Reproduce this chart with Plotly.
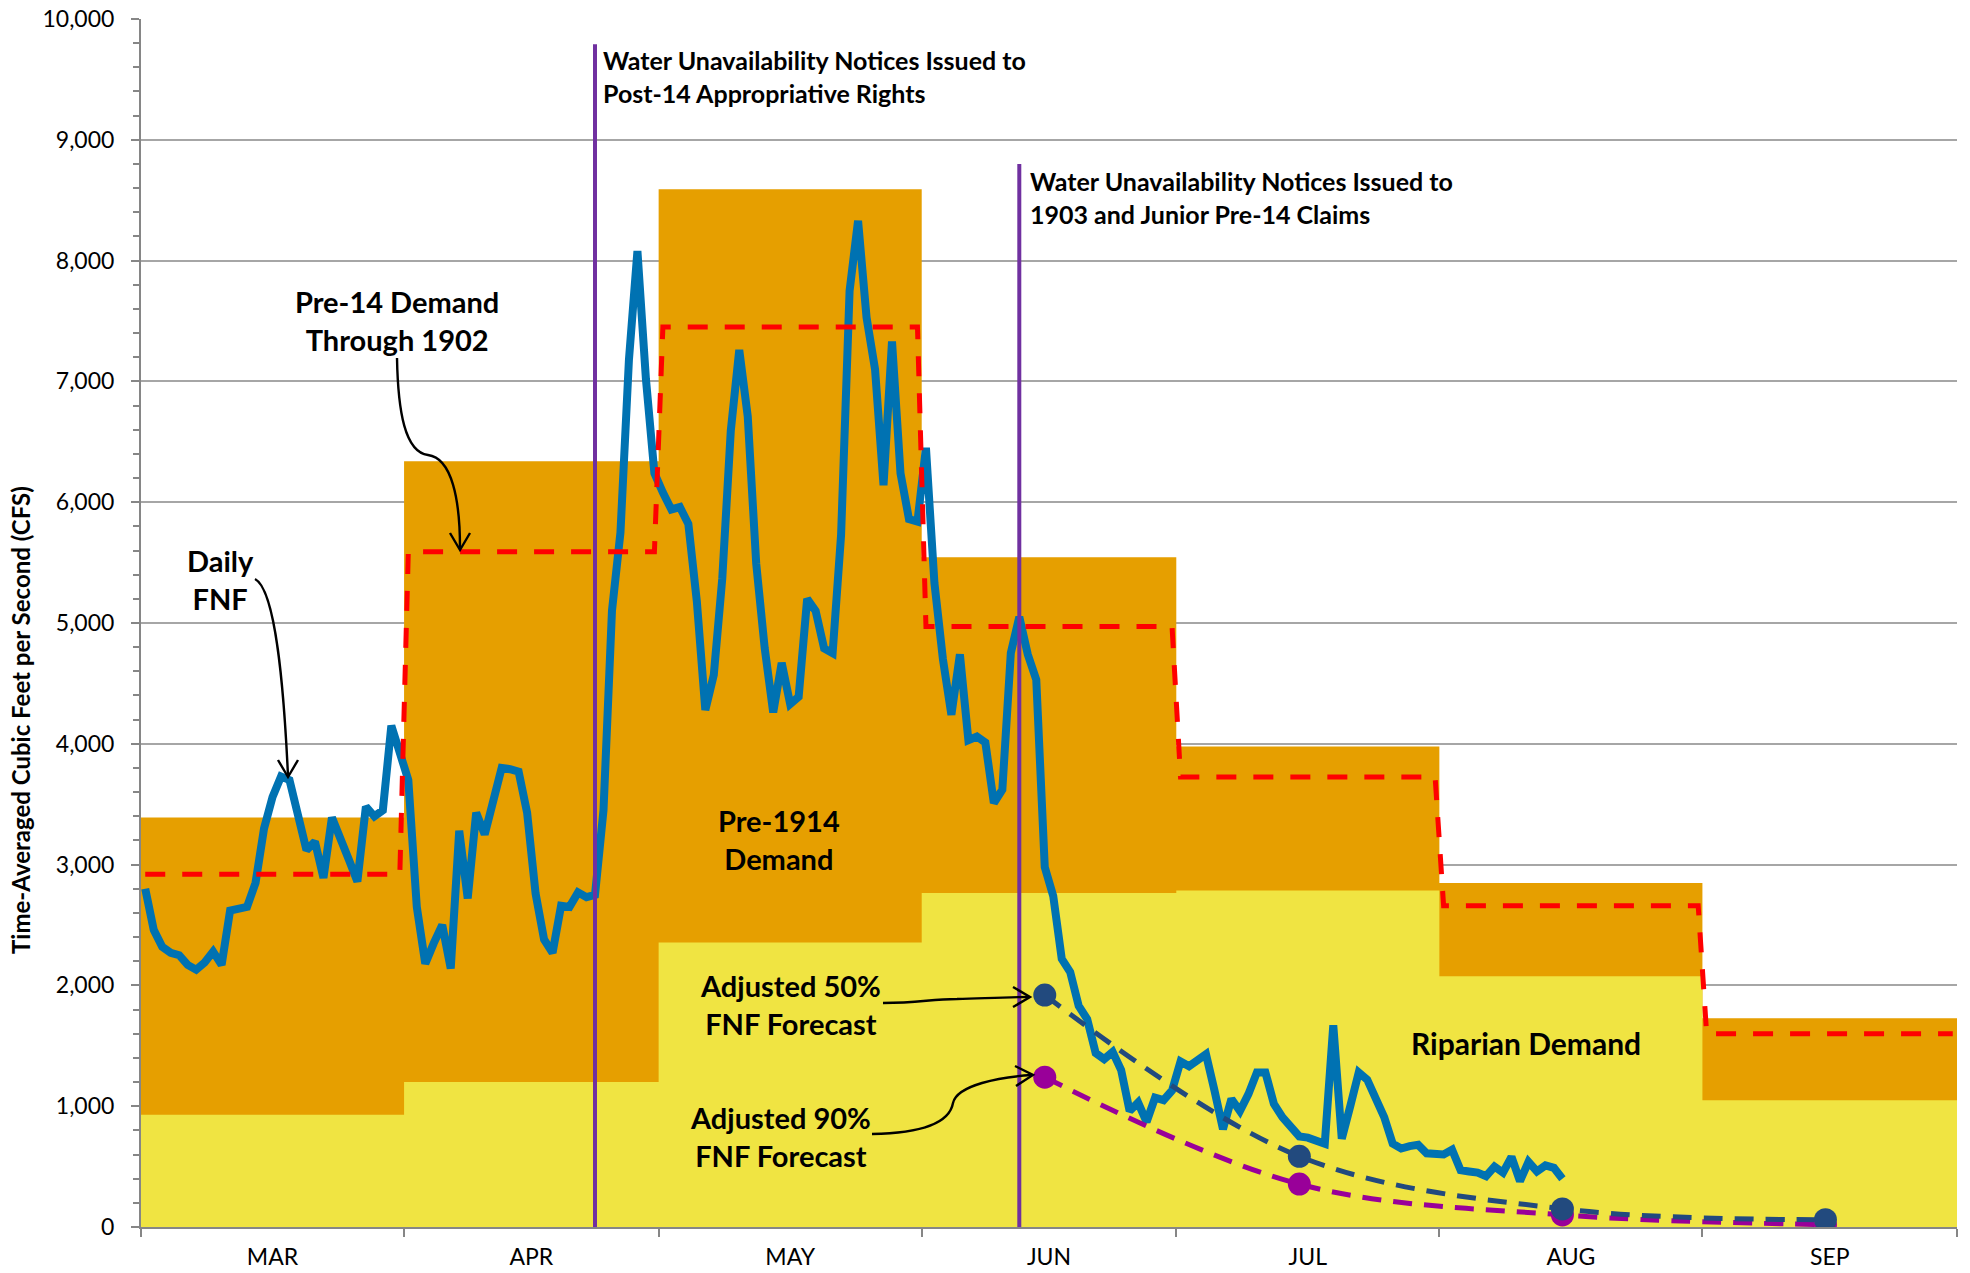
import pandas as pd
import plotly.graph_objects as go

# ---------------- DATA ----------------
season_start = "2015-03-01"
season_end = "2015-10-01"
month_labels = ["MAR", "APR", "MAY", "JUN", "JUL", "AUG", "SEP"]

# monthly demand blocks (cfs)
riparian_demand = [930, 1200, 2355, 2765, 2785, 2075, 1050]
pre1914_demand = [2460, 5140, 6235, 2780, 1192, 773, 678]        # stacked above riparian
pre14_thru_1902_demand = [2920, 5590, 7450, 4970, 3725, 2660, 1600]  # red dashed

# daily full natural flow, Mar 1 onward (cfs)
daily_fnf = [
    2800, 2460, 2320, 2270, 2250, 2170, 2130, 2190, 2280, 2170,
    2620, 2630, 2650, 2850, 3300, 3560, 3730, 3700, 3400, 3120,
    3190, 2890, 3390, 3230, 3040, 2860, 3480, 3400, 3450, 4150,
    3900, 3700, 2650, 2180, 2350, 2500, 2140, 3280, 2720, 3430,
    3250, 3530, 3800, 3790, 3770, 3430, 2760, 2380, 2270, 2660,
    2650, 2770, 2730, 2750, 3450, 5100, 5750, 7180, 8080, 7020,
    6240, 6080, 5940, 5960, 5820, 5180, 4280, 4570, 5370, 6590,
    7260, 6710, 5490, 4790, 4260, 4670, 4330, 4390, 5200, 5100,
    4790, 4750, 5730, 7750, 8330, 7530, 7100, 6140, 7330, 6240,
    5860, 5840, 6450, 5330, 4700, 4240, 4740, 4030, 4060, 4010,
    3510, 3620, 4750, 5050, 4740, 4530, 2980, 2740, 2220, 2110,
    1830, 1720, 1440, 1390, 1450, 1300, 960, 1030, 870, 1070,
    1050, 1130, 1370, 1330, 1380, 1430, 1130, 810, 1060, 960,
    1100, 1280, 1280, 1020, 910, 830, 750, 740, 720, 690,
    1670, 730, 1000, 1280, 1220, 1050, 910, 690, 650, 670,
    680, 610, 610, 600, 640, 470, 460, 450, 420, 500,
    450, 580, 380, 540, 460, 510, 490, 400,
]

# adjusted FNF forecasts (mid-month)
forecast_dates = ["2015-06-15", "2015-07-15", "2015-08-15", "2015-09-15"]
fnf_forecast_50 = [1920, 585, 150, 60]
fnf_forecast_90 = [1240, 355, 100, 20]

# curtailment notice dates
notice_dates = ["2015-04-23", "2015-06-12"]
notice_texts = [
    "Water Unavailability Notices Issued to<br>Post-14 Appropriative Rights",
    "Water Unavailability Notices Issued to<br>1903 and Junior Pre-14 Claims",
]

# ---------------- COLOURS ----------------
C_YELLOW = "#F0E442"
C_ORANGE = "#E69F00"
C_BLUE = "#0072B2"
C_RED = "#FF0000"
C_PURPLE_LINE = "#7030A0"
C_NAVY = "#224A7E"
C_MAGENTA = "#990099"
C_GRID = "#A6A6A6"
C_AXIS = "#868686"

# ---------------- DERIVED ----------------
half_day = pd.Timedelta(hours=12)
month_starts = pd.date_range(season_start, season_end, freq="MS")
month_mids = [month_starts[i] + (month_starts[i + 1] - month_starts[i]) / 2 for i in range(7)]

step_x = list(month_starts)
rip_y = riparian_demand + [riparian_demand[-1]]
top_vals = [r + p for r, p in zip(riparian_demand, pre1914_demand)]
top_y = top_vals + [top_vals[-1]]

days = pd.date_range(season_start, "2015-09-30", freq="D")
red_x = days + half_day
red_y = [pre14_thru_1902_demand[d.month - 3] for d in days]

fnf_x = pd.date_range(season_start, periods=len(daily_fnf), freq="D") + half_day
fc_x = pd.to_datetime(forecast_dates) + half_day

fig = go.Figure()

# stacked demand areas
fig.add_trace(go.Scatter(x=step_x, y=top_y, mode="lines", line=dict(width=0, shape="hv"),
                         fill="tozeroy", fillcolor=C_ORANGE, hoverinfo="skip", showlegend=False))
fig.add_trace(go.Scatter(x=step_x, y=rip_y, mode="lines", line=dict(width=0, shape="hv"),
                         fill="tozeroy", fillcolor=C_YELLOW, hoverinfo="skip", showlegend=False))

# daily FNF
fig.add_trace(go.Scatter(x=fnf_x, y=daily_fnf, mode="lines",
                         line=dict(color=C_BLUE, width=8), showlegend=False))

# pre-14 demand through 1902
fig.add_trace(go.Scatter(x=red_x, y=red_y, mode="lines",
                         line=dict(color=C_RED, width=5, dash="20px,17px"), showlegend=False))

# notice lines
notice_tops = [9790, 8800]
for d, top in zip(notice_dates, notice_tops):
    xd = pd.Timestamp(d) + half_day
    fig.add_trace(go.Scatter(x=[xd, xd], y=[0, top], mode="lines",
                             line=dict(color=C_PURPLE_LINE, width=4), showlegend=False,
                             hoverinfo="skip"))

# forecasts
fig.add_trace(go.Scatter(x=fc_x, y=fnf_forecast_90, mode="lines",
                         line=dict(color=C_MAGENTA, width=5, dash="19px,12px", shape="spline"),
                         showlegend=False))
fig.add_trace(go.Scatter(x=fc_x, y=fnf_forecast_50, mode="lines",
                         line=dict(color=C_NAVY, width=5, dash="19px,12px", shape="spline"),
                         showlegend=False))
fig.add_trace(go.Scatter(x=fc_x, y=fnf_forecast_90, mode="markers",
                         marker=dict(color=C_MAGENTA, size=23), showlegend=False))
fig.add_trace(go.Scatter(x=fc_x, y=fnf_forecast_50, mode="markers",
                         marker=dict(color=C_NAVY, size=23), showlegend=False))

# ---------------- LAYOUT ----------------
W, H = 1970, 1273
ML, MR, MT, MB = 141, 13, 19, 46
PW, PH = W - ML - MR, H - MT - MB


def pp(x, y):
    """pixel position -> paper coords"""
    return (x - ML) / PW, (H - MB - y) / PH


annotations = []


def label(text, x, y, size, xanchor="center", align="center"):
    px_, py_ = pp(x, y)
    annotations.append(dict(text=f"<b>{text}</b>", x=px_, y=py_, xref="paper", yref="paper",
                            xanchor=xanchor, yanchor="middle", align=align, showarrow=False,
                            font=dict(size=size, color="black", family="Lato")))


label(notice_texts[0], 601, 77, 25, xanchor="left", align="left")
label(notice_texts[1], 1028, 197, 25, xanchor="left", align="left")
label("Pre-14 Demand<br>Through 1902", 397, 320, 29)
label("Daily<br>FNF", 220, 579, 29)
label("Pre-1914<br>Demand", 779, 839, 29)
label("Adjusted 50%<br>FNF Forecast", 790, 1004, 29)
label("Adjusted 90%<br>FNF Forecast", 780, 1136, 29)
label("Riparian Demand", 1526, 1043, 30)

# y-axis title
tx, ty = pp(21, 720)
annotations.append(dict(text="<b>Time-Averaged Cubic Feet per Second (CFS)</b>", x=tx, y=ty,
                        xref="paper", yref="paper", textangle=-90, showarrow=False,
                        xanchor="center", yanchor="middle",
                        font=dict(size=24, color="black", family="Lato")))


def path(cmds):
    out = []
    for c, pts in cmds:
        coords = " ".join(f"{pp(x, y)[0]:.5f},{pp(x, y)[1]:.5f}" for x, y in pts)
        out.append(f"{c} {coords}")
    return " ".join(out)


arrow_paths = [
    # Daily FNF
    [("M", [(255, 579)]), ("C", [(276, 590), (284, 690), (288, 776)])],
    [("M", [(278, 760)]), ("L", [(288, 777)]), ("L", [(298, 760)])],
    # Pre-14 demand
    [("M", [(397, 358)]), ("C", [(398, 412), (405, 452), (428, 455)]),
     ("C", [(452, 458), (460, 500), (460, 548)])],
    [("M", [(450, 533)]), ("L", [(460, 550)]), ("L", [(470, 533)])],
    # 50%
    [("M", [(883, 1003)]), ("C", [(920, 1003), (930, 999), (957, 999)]),
     ("C", [(990, 998), (1010, 997), (1029, 997)])],
    [("M", [(1013, 987)]), ("L", [(1030, 997)]), ("L", [(1013, 1007)])],
    # 90%
    [("M", [(872, 1134)]), ("C", [(930, 1133), (950, 1120), (953, 1103)]),
     ("C", [(957, 1085), (1000, 1077), (1032, 1075)])],
    [("M", [(1015, 1066)]), ("L", [(1033, 1075)]), ("L", [(1016, 1086)])],
]
shapes = [dict(type="path", path=path(p), xref="paper", yref="paper",
               line=dict(color="black", width=2.4)) for p in arrow_paths]

fig.update_layout(
    width=W, height=H,
    margin=dict(l=ML, r=MR, t=MT, b=MB, autoexpand=False),
    paper_bgcolor="white", plot_bgcolor="white",
    font=dict(family="Lato", color="black"),
    annotations=annotations,
    shapes=shapes,
    showlegend=False,
    xaxis=dict(
        type="date", range=[month_starts[0], month_starts[-1]], automargin=False,
        tickmode="array", tickvals=month_mids, ticktext=month_labels,
        ticks="", showgrid=False, showline=True, linecolor=C_AXIS, linewidth=2,
        tickfont=dict(size=23, family="Lato", color="black"), ticklabelstandoff=8,
        minor=dict(tickmode="array", tickvals=list(month_starts), ticks="outside",
                   ticklen=8, tickwidth=2, tickcolor=C_AXIS, showgrid=False),
        zeroline=False, fixedrange=True,
    ),
    yaxis=dict(
        range=[0, 10000], dtick=1000, tickformat=",", showgrid=True, gridcolor=C_GRID,
        automargin=False,
        gridwidth=2, showline=True, linecolor=C_AXIS, linewidth=2, ticks="outside",
        ticklen=8, tickwidth=2, tickcolor=C_AXIS,
        tickfont=dict(size=23, family="Lato", color="black"), ticklabelstandoff=12,
        minor=dict(dtick=200, ticks="outside", ticklen=6, tickwidth=2, tickcolor=C_AXIS,
                   showgrid=False),
        zeroline=False, fixedrange=True,
    ),
)

fig.write_html(
    "out.html",
    config={"displayModeBar": False},
    post_script="document.body.style.margin='0';document.body.style.overflow='hidden';",
)
